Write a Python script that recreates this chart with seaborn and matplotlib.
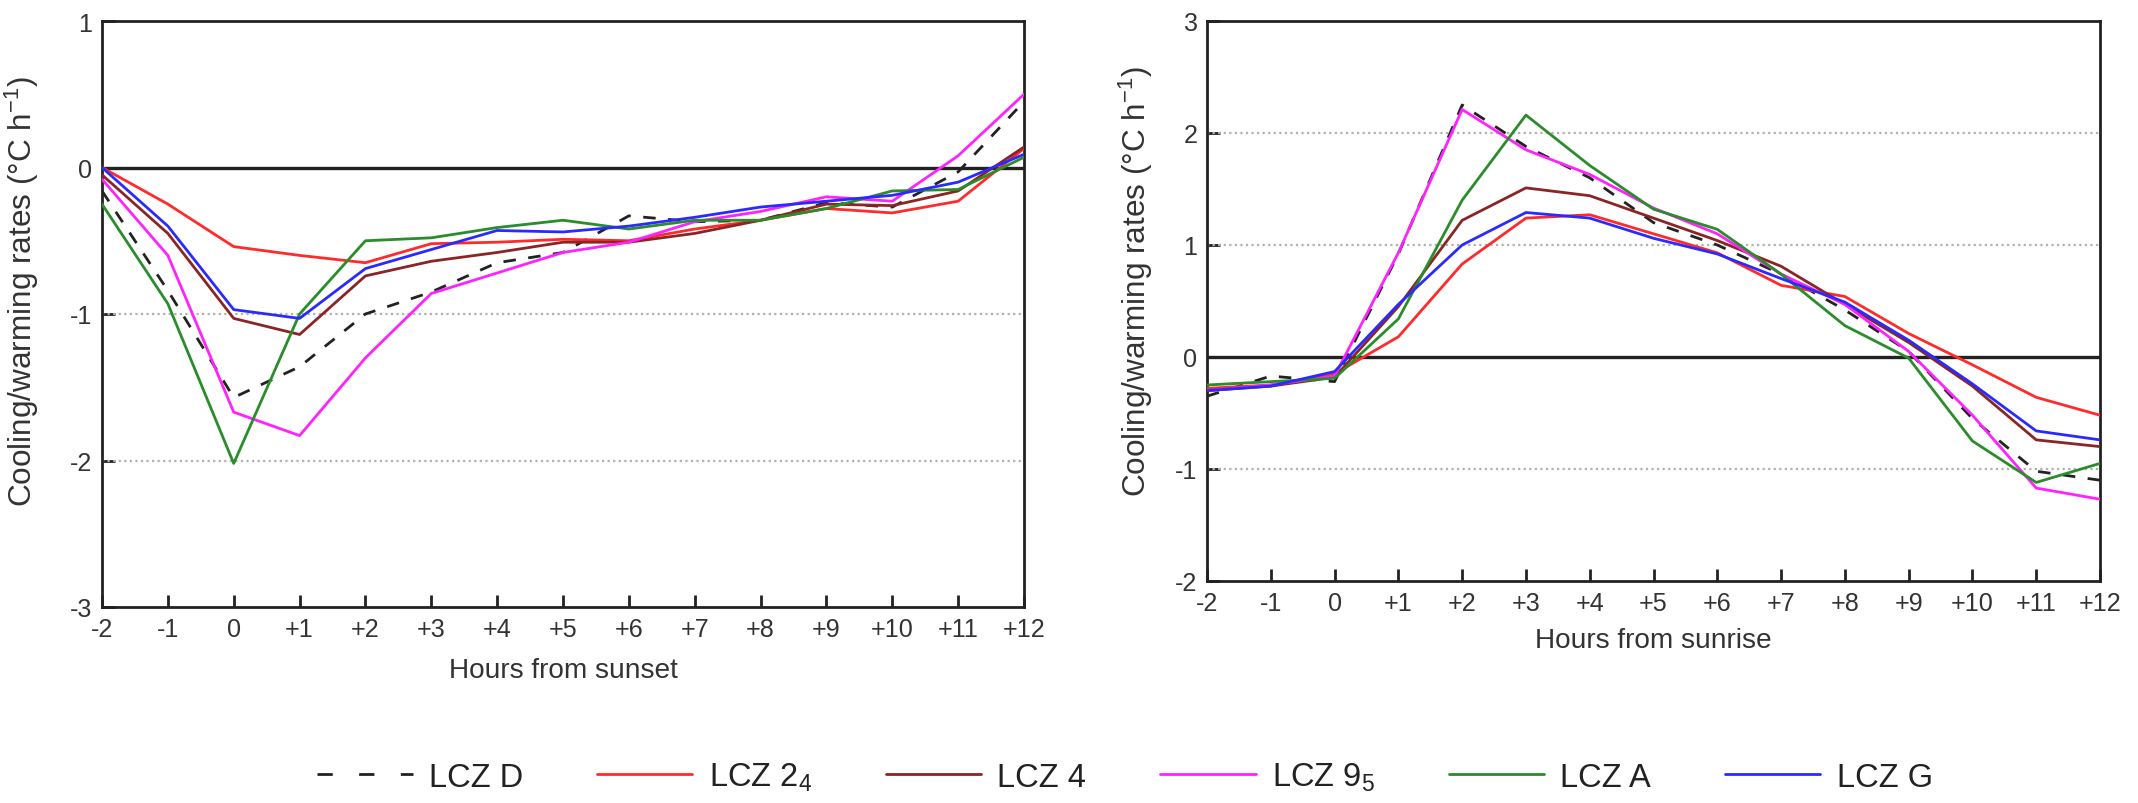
import numpy as np
import pandas as pd
import matplotlib
matplotlib.use("Agg")
import matplotlib.pyplot as plt
from matplotlib import font_manager
import seaborn as sns

hours = list(range(-2, 13))
hour_labels = ["-2", "-1", "0"] + [f"+{h}" for h in range(1, 13)]

zones = ["LCZ D", "LCZ 2$_4$", "LCZ 4", "LCZ 9$_5$", "LCZ A", "LCZ G"]
zone_colors = ["#222222", "#ff2a2a", "#8b2525", "#ff22ff", "#2a8c2a", "#2a2aff"]

# Cooling rates after sunset (°C per hour)
sunset_d  = [-0.16, -0.84, -1.57, -1.36, -1.00, -0.85, -0.65, -0.58, -0.33, -0.37, -0.36, -0.24, -0.27, -0.03, 0.45]
sunset_24 = [0.00, -0.25, -0.54, -0.60, -0.65, -0.52, -0.51, -0.49, -0.50, -0.42, -0.36, -0.28, -0.31, -0.23, 0.13]
sunset_4  = [-0.05, -0.45, -1.03, -1.14, -0.74, -0.64, -0.58, -0.51, -0.51, -0.45, -0.36, -0.25, -0.26, -0.16, 0.14]
sunset_95 = [-0.08, -0.60, -1.67, -1.83, -1.30, -0.86, -0.72, -0.58, -0.51, -0.37, -0.30, -0.20, -0.23, 0.08, 0.50]
sunset_a  = [-0.25, -0.93, -2.02, -1.00, -0.50, -0.48, -0.41, -0.36, -0.42, -0.36, -0.36, -0.28, -0.16, -0.15, 0.07]
sunset_g  = [0.00, -0.40, -0.97, -1.03, -0.69, -0.56, -0.43, -0.44, -0.40, -0.34, -0.27, -0.23, -0.19, -0.10, 0.09]

# Warming rates after sunrise (°C per hour)
sunrise_d  = [-0.35, -0.17, -0.22, 0.92, 2.25, 1.88, 1.60, 1.20, 1.00, 0.74, 0.42, 0.05, -0.55, -1.02, -1.10]
sunrise_24 = [-0.28, -0.25, -0.15, 0.18, 0.83, 1.24, 1.27, 1.10, 0.93, 0.64, 0.54, 0.21, -0.07, -0.36, -0.52]
sunrise_4  = [-0.30, -0.26, -0.18, 0.45, 1.22, 1.51, 1.44, 1.24, 1.04, 0.81, 0.47, 0.13, -0.26, -0.74, -0.80]
sunrise_95 = [-0.30, -0.25, -0.17, 0.93, 2.21, 1.85, 1.63, 1.33, 1.10, 0.74, 0.47, 0.05, -0.52, -1.17, -1.27]
sunrise_a  = [-0.25, -0.22, -0.19, 0.34, 1.40, 2.16, 1.71, 1.32, 1.14, 0.74, 0.28, -0.01, -0.75, -1.12, -0.95]
sunrise_g  = [-0.30, -0.26, -0.13, 0.47, 1.00, 1.29, 1.24, 1.06, 0.92, 0.70, 0.49, 0.15, -0.24, -0.66, -0.74]

sunset_series = [sunset_d, sunset_24, sunset_4, sunset_95, sunset_a, sunset_g]
sunrise_series = [sunrise_d, sunrise_24, sunrise_4, sunrise_95, sunrise_a, sunrise_g]

sns.set_theme(style="white")

# Prefer a condensed face; fall back to the regular width with smaller sizes
installed = {f.name for f in font_manager.fontManager.ttflist}
if "Liberation Sans Narrow" in installed:
    face, k = "Liberation Sans Narrow", 1.0
else:
    face, k = "Liberation Sans", 0.84
plt.rcParams["font.family"] = [face, "DejaVu Sans"]
plt.rcParams["mathtext.fontset"] = "custom"
plt.rcParams["mathtext.rm"] = face
plt.rcParams["mathtext.it"] = face

TICK_FS = 21.5 * k
XLAB_FS = 24 * k
YLAB_FS = 27 * k
LEG_FS = 28 * k

fig = plt.figure(figsize=(21.38, 8.04), dpi=100)
ax1 = fig.add_axes([102 / 2138, 1 - 608 / 804, (1024 - 102) / 2138, (608 - 22) / 804])
ax2 = fig.add_axes([1207 / 2138, 1 - 582 / 804, (2100 - 1207) / 2138, (582 - 22) / 804])


def draw_panel(ax, series, ylim, yticks, xlabel, xlab_y, ylab_x, ylab_y):
    for y in yticks:
        if y != 0 and y not in ylim:
            ax.axhline(y, color="#b0b0b0", lw=1.6, ls=(0, (1, 1.5)), zorder=1)
    ax.axhline(0, color="#222222", lw=2.4, zorder=2)
    for name, color, vals in zip(zones, zone_colors, series):
        df = pd.DataFrame({"hour": hours, "rate": vals})
        dashed = name == "LCZ D"
        sns.lineplot(data=df, x="hour", y="rate", ax=ax, color=color, lw=2.0,
                     linestyle=(0, (4.5, 4.5)) if dashed else "-", label=name,
                     legend=False, zorder=3 if dashed else 4)
    ax.set_xlim(-2, 12)
    ax.set_ylim(*ylim)
    ax.set_xticks(hours)
    ax.set_xticklabels(hour_labels)
    ax.set_yticks(yticks)
    ax.set_yticklabels([f"{t:g}" for t in yticks])
    ax.tick_params(axis="both", direction="in", length=9, width=2, color="#222222",
                   labelsize=TICK_FS, labelcolor="#333333", pad=7,
                   bottom=True, left=True, top=False, right=False)
    for s in ax.spines.values():
        s.set_color("#222222")
        s.set_linewidth(2)
    ax.set_xlabel(xlabel, fontsize=XLAB_FS, color="#333333")
    ax.set_ylabel("Cooling/warming rates (°C h$^{-1}$)", fontsize=YLAB_FS, color="#333333")
    ax.xaxis.set_label_coords(0.5, xlab_y)
    ax.yaxis.set_label_coords(ylab_x, ylab_y)


draw_panel(ax1, sunset_series, (-3, 1), [-3, -2, -1, 0, 1], "Hours from sunset",
           -0.085, -0.066, 0.54)
draw_panel(ax2, sunrise_series, (-2, 3), [-2, -1, 0, 1, 2, 3], "Hours from sunrise",
           -0.082, -0.058, 0.537)

handles, labels = ax1.get_legend_handles_labels()
leg = fig.legend(handles, labels, loc="center", bbox_to_anchor=(1125 / 2138, 1 - 778 / 804),
                 ncol=6, frameon=False, fontsize=LEG_FS, handlelength=2.45 / k,
                 handletextpad=0.42 / k, columnspacing=1.9 / k)
for t in leg.get_texts():
    t.set_color("#222222")
leg.get_lines()[0].set_linestyle((0, (5.5, 9.5)))

fig.savefig("out.png", dpi=100, facecolor="white")
